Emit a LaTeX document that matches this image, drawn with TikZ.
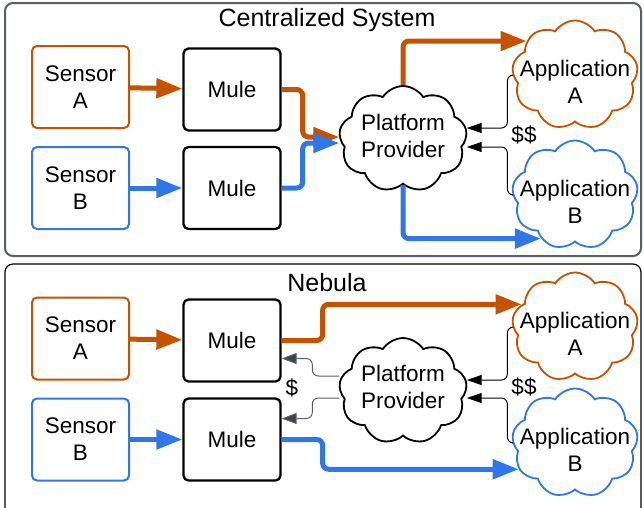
\documentclass[tikz,border=0pt]{standalone}
\usepackage{fontspec}
\setmainfont{Liberation Sans}
\usetikzlibrary{shapes.symbols,arrows.meta}
\definecolor{flowA}{HTML}{C65200}
\definecolor{flowB}{HTML}{2F76E6}
\definecolor{payline}{HTML}{5A5E66}
\definecolor{payhead}{HTML}{3D4450}
\begin{document}
\begin{tikzpicture}
  [x=1pt,y=-1pt,font=\fontsize{22.5}{27}\selectfont,
   box/.style={draw,line width=2pt,rounded corners=5pt,align=center,
     minimum width=97pt,minimum height=82pt,inner sep=0pt},
   sensorA/.style={box,draw=flowA},
   sensorB/.style={box,draw=flowB},
   mule/.style={box,line width=2.3pt},
   puff/.style={cloud,draw,line width=1.8pt,cloud puffs=9,cloud puff arc=115,
     inner sep=0pt,minimum width=128pt,minimum height=106pt},
   app/.style={puff,minimum width=126pt,minimum height=109pt,
     label={[align=center,yshift=-7pt]center:#1}},
   heading/.style={font=\fontsize{25}{30}\selectfont},
   flow/.style={line width=5pt,rounded corners=6pt,
     -{Triangle[length=26pt,width=19pt]}},
   pay/.style={line width=1pt,rounded corners=6pt,
     -{Triangle[length=15pt,width=10pt]}},
   panel/.style={rounded corners=8pt}]
  \useasboundingbox (0,0) rectangle (644,507);

  % the two panels
  \draw[panel,draw=payline,line width=2pt] (5,3) rectangle (641,256);
  \draw[panel,line width=1.2pt] (5,264) rectangle (641,520);
  \node[heading] (t1) at (327,20)  {Centralized System};
  \node[heading] (t2) at (327,283) {Nebula};

  % centralized system
  \node[sensorA] (s1) at (80.5,87)   {Sensor\\A};
  \node[sensorB] (s2) at (80.5,188)  {Sensor\\B};
  \node[mule]    (m1) at (232,89.5)  {Mule};
  \node[mule]    (m2) at (232,188)   {Mule};
  \node[puff,label={[align=center,yshift=3pt]center:Platform\\Provider}]
    (pp) at (403,139) {};
  \node[app={Application\\A},draw=flowA] (pa) at (575,75)  {};
  \node[app={Application\\B},draw=flowB] (pb) at (575,195) {};

  % nebula
  \node[sensorA] (s3) at (80.5,338.5) {Sensor\\A};
  \node[sensorB] (s4) at (80.5,439.5) {Sensor\\B};
  \node[mule]    (m3) at (232,340.5)  {Mule};
  \node[mule]    (m4) at (232,439.5)  {Mule};
  \node[puff,label={[align=center,yshift=4pt]center:Platform\\Provider}]
    (pq) at (403,391) {};
  \node[app={Application\\A},draw=flowA] (qa) at (575,327) {};
  \node[app={Application\\B},draw=flowB] (qb) at (575,443) {};

  \foreach \from/\to/\col in {s1/m1/flowA,s2/m2/flowB,s3/m3/flowA,s4/m4/flowB}
    \draw[flow,draw=\col] (\from) -- (\to);

  % data through the provider
  \draw[flow,draw=flowA] (m1.east) -- ++(21,0) |- ([yshift=2pt]pp.west);
  \draw[flow,draw=flowB] (m2.east) -- ++(21,0) |- ([yshift=-4pt]pp.west);
  \draw[flow,draw=flowA] (pp.north) |- (pa.145);
  \draw[flow,draw=flowB] (pp.south) |- (pb.-128);

  % data straight from the mules
  \draw[flow,draw=flowA] (m3.east) -- ++(41,0) |- (qa.157);
  \draw[flow,draw=flowB] (m4.east) -- ++(41,0) |- (qb.-155);

  % payments
  \draw[pay] (pa.west) -- ++(-5,0) |- ([yshift=11pt]pp.east);
  \draw[pay] (pb.west) -- ++(-5,0) |- ([yshift=-8pt]pp.east);
  \node (d1) at (524,135) {\$\$};
  \draw[pay] (qa.west) -- ++(-5,0) |- ([yshift=11pt]pq.east);
  \draw[pay] (qb.west) -- ++(-5,0) |- ([yshift=-7pt]pq.east);
  \node (d2) at (524,387) {\$\$};
  \draw[pay,draw=payline,-{Triangle[length=15pt,width=11pt,fill=payhead]}]
    ([yshift=15pt]pq.west) -- ++(-27,0) |- ([yshift=-18pt]m3.east);
  \draw[pay,draw=payline,-{Triangle[length=15pt,width=11pt,fill=payhead]}]
    ([yshift=-7pt]pq.west) -- ++(-27,0) |- ([yshift=21pt]m4.east);
  \node (d3) at (292,388) {\$};
\end{tikzpicture}
\end{document}
